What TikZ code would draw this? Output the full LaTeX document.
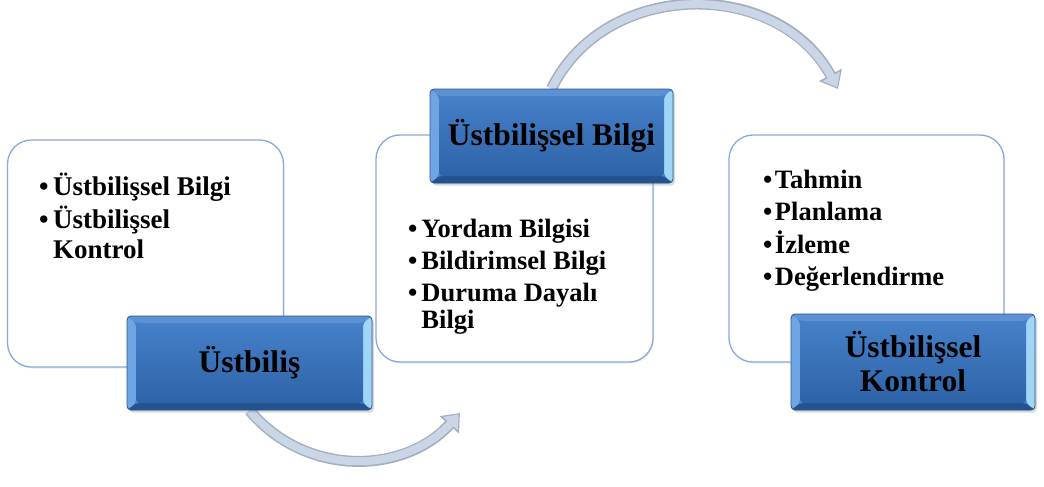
\documentclass[tikz,border=0pt]{standalone}
\usepackage{fontspec}
\setmainfont{Liberation Serif}
\usetikzlibrary{arrows.meta,shadows}
\pgfdeclarelayer{background}
\pgfsetlayers{background,main}
\definecolor{bordblue}{HTML}{86AADB}
\definecolor{blueedge}{HTML}{2A5690}
\definecolor{bvtop}{HTML}{5C92D4}
\definecolor{bvbot}{HTML}{24528E}
\definecolor{bvleft}{HTML}{6FA5E2}
\definecolor{bvright}{HTML}{9FD6F6}
\definecolor{facetop}{HTML}{4580C8}
\definecolor{facebot}{HTML}{2E63A8}
\definecolor{arrowedge}{HTML}{A4AEBE}
\definecolor{arrowfill}{HTML}{CAD5E6}
\tikzset{
  whitebox/.style={rectangle, rounded corners=24pt, draw=bordblue, line width=1.3pt,
    fill=white, inner sep=0pt,
    drop shadow={shadow xshift=1pt, shadow yshift=-1.5pt, opacity=0.15}},
  bluebox/.style={rectangle, rounded corners=4pt, inner sep=0pt, draw=blueedge,
    line width=0.8pt, fill=facetop, align=center, text=black,
    font=\fontsize{31.5}{34}\selectfont\bfseries,
    drop shadow={shadow xshift=2pt, shadow yshift=-2.5pt, opacity=0.3},
    path picture={
      \coordinate (NW) at (path picture bounding box.north west);
      \coordinate (NE) at (path picture bounding box.north east);
      \coordinate (SW) at (path picture bounding box.south west);
      \coordinate (SE) at (path picture bounding box.south east);
      \coordinate (nw) at ([shift={(9pt,-7pt)}]NW);
      \coordinate (ne) at ([shift={(-9pt,-7pt)}]NE);
      \coordinate (sw) at ([shift={(9pt,7pt)}]SW);
      \coordinate (se) at ([shift={(-9pt,7pt)}]SE);
      \fill[bvtop] (NW) -- (NE) -- (ne) -- (nw) -- cycle;
      \fill[bvbot] (SW) -- (SE) -- (se) -- (sw) -- cycle;
      \fill[bvleft] (NW) -- (nw) -- (sw) -- (SW) -- cycle;
      \fill[bvright] (NE) -- (ne) -- (se) -- (SE) -- cycle;
      \shade[top color=facetop, bottom color=facebot] (nw) rectangle (se);
    }},
  listtext/.style={inner sep=0pt, text=black, font=\bfseries},
  arrowout/.style={draw=arrowedge, line width=11pt, -{Triangle[length=16pt,width=25pt]}},
  arrowin/.style={draw=arrowfill, line width=8pt, -{Triangle[length=12.5pt,width=19pt]}, shorten >=1.8pt},
}
\begin{document}
\begin{tikzpicture}[x=1pt,y=-1pt]
\useasboundingbox (0,0) rectangle (1044,487);
% white boxes
\node[whitebox, minimum width=276pt, minimum height=227pt] (w1) at (145.5,253.5) {};
\node[whitebox, minimum width=277pt, minimum height=227pt] (w2) at (514.5,248.5) {};
\node[whitebox, minimum width=275pt, minimum height=227pt] (w3) at (866.5,248.5) {};
% list texts
\node[listtext, anchor=base west] (t1) at (39,195)
  {\fontsize{27}{30}\selectfont\begin{tabular}[t]{@{}l@{\hspace{4.5pt}}l@{}}•&Üstbilişsel Bilgi\\[2pt]•&Üstbilişsel\\&Kontrol\end{tabular}};
\node[listtext, anchor=base west] (t2) at (408,237)
  {\fontsize{26.5}{27}\selectfont\begin{tabular}[t]{@{}l@{\hspace{4pt}}l@{}}•&Yordam Bilgisi\\[5pt]•&Bildirimsel Bilgi\\[5pt]•&Duruma Dayalı\\&Bilgi\end{tabular}};
\node[listtext, anchor=base west] (t3) at (763,188)
  {\fontsize{26.5}{32.5}\selectfont\begin{tabular}[t]{@{}l@{\hspace{2.5pt}}l@{}}•&Tahmin\\•&Planlama\\•&İzleme\\•&Değerlendirme\end{tabular}};
% blue boxes
\node[bluebox, minimum width=245pt, minimum height=94pt] (b1) at (249.5,363) {Üstbiliş};
\node[bluebox, minimum width=243pt, minimum height=94pt] (b2) at (551.5,136) {Üstbilişsel Bilgi};
\node[bluebox, minimum width=244pt, minimum height=96pt] (b3) at (913,362) {Üstbilişsel\\Kontrol};
% arrows
\coordinate (a1e) at (460,413);
\coordinate (a2e) at (838,89);
\begin{pgfonlayer}{background}
\draw[arrowout] (b1.south) .. controls (306,478) and (405,474) .. (a1e);
\draw[arrowin]  (b1.south) .. controls (306,478) and (405,474) .. (a1e);
\draw[arrowout] (b2.north) .. controls (606,-22) and (778,-22) .. (a2e);
\draw[arrowin]  (b2.north) .. controls (606,-22) and (778,-22) .. (a2e);
\end{pgfonlayer}
\end{tikzpicture}
\end{document}
